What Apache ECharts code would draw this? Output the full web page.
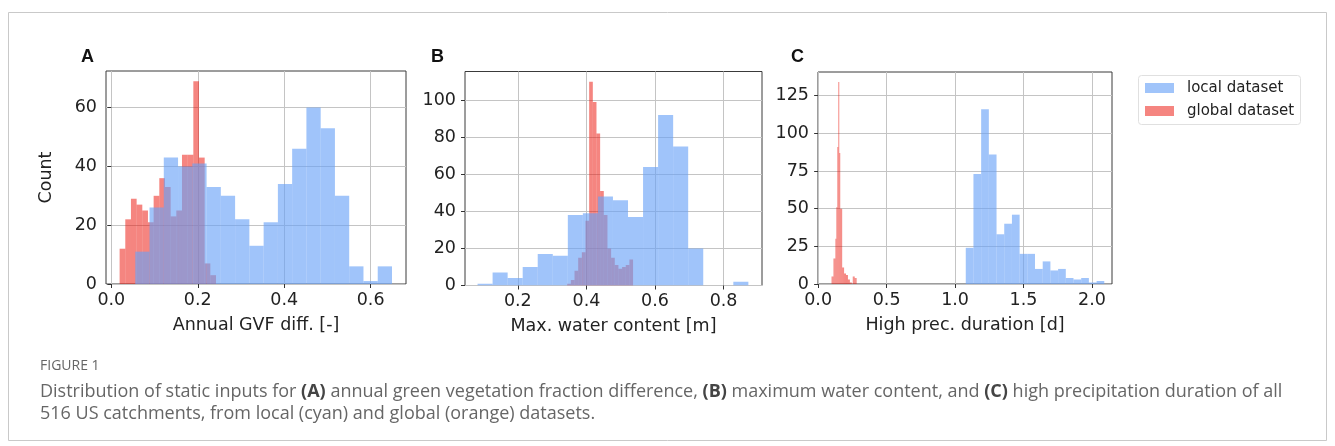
<!DOCTYPE html>
<html>
<head>
<meta charset="utf-8">
<script src="https://cdn.jsdelivr.net/npm/echarts@6/dist/echarts.min.js"></script>
<style>
html,body{margin:0;padding:0;background:#fff;}
#chart{width:1335px;height:446px;}
</style>
</head>
<body>
<div id="chart"></div>
<script>
// ---------- data ----------
// Panel A: Annual GVF diff. [-]
const aLocalStart = 0.0554, aLocalWidth = 0.0330;
const aLocalCounts = [11, 26, 43, 40, 41, 33, 30, 22, 13, 21, 34, 46, 60, 53, 30, 6, 1, 6];
const aGlobalStart = 0.0192, aGlobalWidth = 0.01312;
const aGlobalCounts = [12, 22, 29, 27, 25, 21, 30, 36, 33, 23, 25, 44, 44, 69, 43, 7, 3];
// Panel B: Max. water content [m]
const bLocalStart = 0.0826, bLocalWidth = 0.04387;
const bLocalCounts = [1, 7, 4, 10, 17, 16, 38, 39, 48, 46, 37, 64, 92, 75, 20, 0, 0, 2];
const bGlobalStart = 0.344, bGlobalWidth = 0.01067;
const bGlobalCounts = [1, 3, 8, 15, 18, 35, 110, 99, 82, 51, 38, 20, 15, 11, 9, 10, 11, 14];
// Panel C: High prec. duration [d]
const cLocalStart = 1.078, cLocalWidth = 0.0562;
const cLocalCounts = [24, 73, 116, 86, 33, 40, 46, 20, 20, 10, 15, 9, 10, 4, 3, 4, 1, 2];
const cGlobalStart = 0.098, cGlobalWidth = 0.00704;
const cGlobalCounts = [5, 5, 17, 17, 30, 51, 91, 134, 87, 50, 50, 11, 11, 7, 7, 6, 6, 3, 3, 1, 1, 0, 5, 5, 4, 4];

// axis ticks and labels
const aXTicks = [0, 0.2, 0.4, 0.6], aYTicks = [0, 20, 40, 60];
const bXTicks = [0.2, 0.4, 0.6, 0.8], bYTicks = [0, 20, 40, 60, 80, 100];
const cXTicks = [0, 0.5, 1.0, 1.5, 2.0], cYTicks = [0, 25, 50, 75, 100, 125];
const xTitles = ['Annual GVF diff. [-]', 'Max. water content [m]', 'High prec. duration [d]'];
const panelLetters = ['A', 'B', 'C'];
const legendNames = ['local dataset', 'global dataset'];
const yTitle = 'Count';
const figLabel = 'FIGURE 1';
const captionLine1 = 'Distribution of static inputs for {b|(A)} annual green vegetation fraction difference, {b|(B)} maximum water content, and {b|(C)} high precipitation duration of all';
const captionLine2 = '516 US catchments, from local (cyan) and global (orange) datasets.';

// ---------- styling ----------
const LOCAL_COLOR = 'rgba(104,161,247,0.63)';
const GLOBAL_COLOR = 'rgba(236,12,2,0.5)';
const FONT = 'DejaVu Sans';

const grids = [
  {left: 106, top: 71, width: 300, height: 213},
  {left: 465, top: 71.5, width: 297, height: 214},
  {left: 818, top: 72, width: 294, height: 212}
];
const xRanges = [[-0.0123, 0.6818], [0.046, 0.912], [-0.001, 2.146]];
const yRanges = [[0, 72.45], [0, 115.5], [0, 140.7]];
const xTickSets = [aXTicks, bXTicks, cXTicks];
const yTickSets = [aYTicks, bYTicks, cYTicks];

function hist(name, idx, start, width, counts, color) {
  const data = counts.map((c, i) => [start + i * width, start + (i + 1) * width, c]);
  return {
    type: 'custom', name: name, xAxisIndex: idx, yAxisIndex: idx,
    data: data, encode: {x: [0, 1], y: 2},
    itemStyle: {color: color},
    silent: true,
    clip: true,
    renderItem: function (params, api) {
      const p0 = api.coord([api.value(0), 0]);
      const p1 = api.coord([api.value(1), api.value(2)]);
      return {
        type: 'rect',
        shape: {x: p0[0], y: p1[1], width: p1[0] - p0[0], height: p0[1] - p1[1]},
        style: {fill: color}
      };
    }
  };
}

const xAxes = [0, 1, 2].map(i => ({
  type: 'value', gridIndex: i, min: xRanges[i][0], max: xRanges[i][1],
  axisLine: {show: false},
  axisTick: {show: true, customValues: xTickSets[i], length: 4, lineStyle: {color: '#333'}},
  axisLabel: {customValues: xTickSets[i], formatter: v => v.toFixed(1), fontFamily: FONT, fontSize: 17.5, color: '#222', margin: 7},
  splitLine: {show: true, lineStyle: {color: '#c4c4c4', width: 1}},
  name: xTitles[i], nameLocation: 'middle', nameGap: 32,
  nameTextStyle: {fontFamily: FONT, fontSize: 17.5, color: '#222'}
}));
const yAxes = [0, 1, 2].map(i => ({
  type: 'value', gridIndex: i, min: yRanges[i][0], max: yRanges[i][1],
  axisLine: {show: false},
  axisTick: {show: true, customValues: yTickSets[i], length: 4, lineStyle: {color: '#333'}},
  axisLabel: {customValues: yTickSets[i], fontFamily: FONT, fontSize: 17.5, color: '#222', margin: 9},
  splitLine: {show: true, lineStyle: {color: '#c4c4c4', width: 1}},
  name: i === 0 ? yTitle : '', nameLocation: 'middle', nameGap: 51,
  nameTextStyle: {fontFamily: FONT, fontSize: 17.5, color: '#222'}
}));

const series = [
  hist(legendNames[1], 0, aGlobalStart, aGlobalWidth, aGlobalCounts, GLOBAL_COLOR),
  hist(legendNames[0], 0, aLocalStart, aLocalWidth, aLocalCounts, LOCAL_COLOR),
  hist(legendNames[1], 1, bGlobalStart, bGlobalWidth, bGlobalCounts, GLOBAL_COLOR),
  hist(legendNames[0], 1, bLocalStart, bLocalWidth, bLocalCounts, LOCAL_COLOR),
  hist(legendNames[1], 2, cGlobalStart, cGlobalWidth, cGlobalCounts, GLOBAL_COLOR),
  hist(legendNames[0], 2, cLocalStart, cLocalWidth, cLocalCounts, LOCAL_COLOR)
];

const letterX = [81, 431, 791];
const graphic = [
  {type: 'rect', shape: {x: 8.5, y: 12.5, width: 1318, height: 428}, style: {fill: 'none', stroke: '#c9c9c9', lineWidth: 1}, silent: true},
  // legend
  {type: 'rect', shape: {x: 1138.5, y: 75.5, width: 162, height: 49, r: 3}, style: {fill: '#fff', stroke: '#e0e0e0', lineWidth: 1}},
  {type: 'rect', shape: {x: 1145, y: 83, width: 29, height: 10}, style: {fill: LOCAL_COLOR}},
  {type: 'rect', shape: {x: 1145, y: 106, width: 29, height: 10}, style: {fill: GLOBAL_COLOR}},
  {type: 'text', x: 1187, y: 88, style: {text: legendNames[0], font: '15px "DejaVu Sans"', fill: '#222', verticalAlign: 'middle'}},
  {type: 'text', x: 1187, y: 111, style: {text: legendNames[1], font: '15px "DejaVu Sans"', fill: '#222', verticalAlign: 'middle'}},
  // caption
  {type: 'text', x: 40, y: 366, style: {text: figLabel, font: '14px "Open Sans"', fill: '#666', verticalAlign: 'middle'}},
  {type: 'text', x: 40, y: 392, style: {
    text: captionLine1,
    font: '18px "Open Sans"', fill: '#666', verticalAlign: 'middle',
    rich: {b: {fontFamily: 'Open Sans', fontSize: 18, fontWeight: 'bold', fill: '#444'}}
  }},
  {type: 'text', x: 40, y: 414, style: {text: captionLine2, font: '18px "Open Sans"', fill: '#666', verticalAlign: 'middle'}}
];
panelLetters.forEach((L, i) => graphic.push({type: 'text', x: letterX[i], y: 57, style: {text: L, font: 'bold 18px "Liberation Sans"', fill: '#111', verticalAlign: 'middle'}}));

const chart = echarts.init(document.getElementById('chart'), null, {renderer: 'canvas'});
chart.setOption({
  animation: false,
  backgroundColor: '#fff',
  grid: grids.map(g => Object.assign({show: true, borderColor: '#3a3a3a', borderWidth: 1, backgroundColor: 'transparent'}, g)),
  xAxis: xAxes,
  yAxis: yAxes,
  series: series,
  graphic: graphic
});
</script>
</body>
</html>
